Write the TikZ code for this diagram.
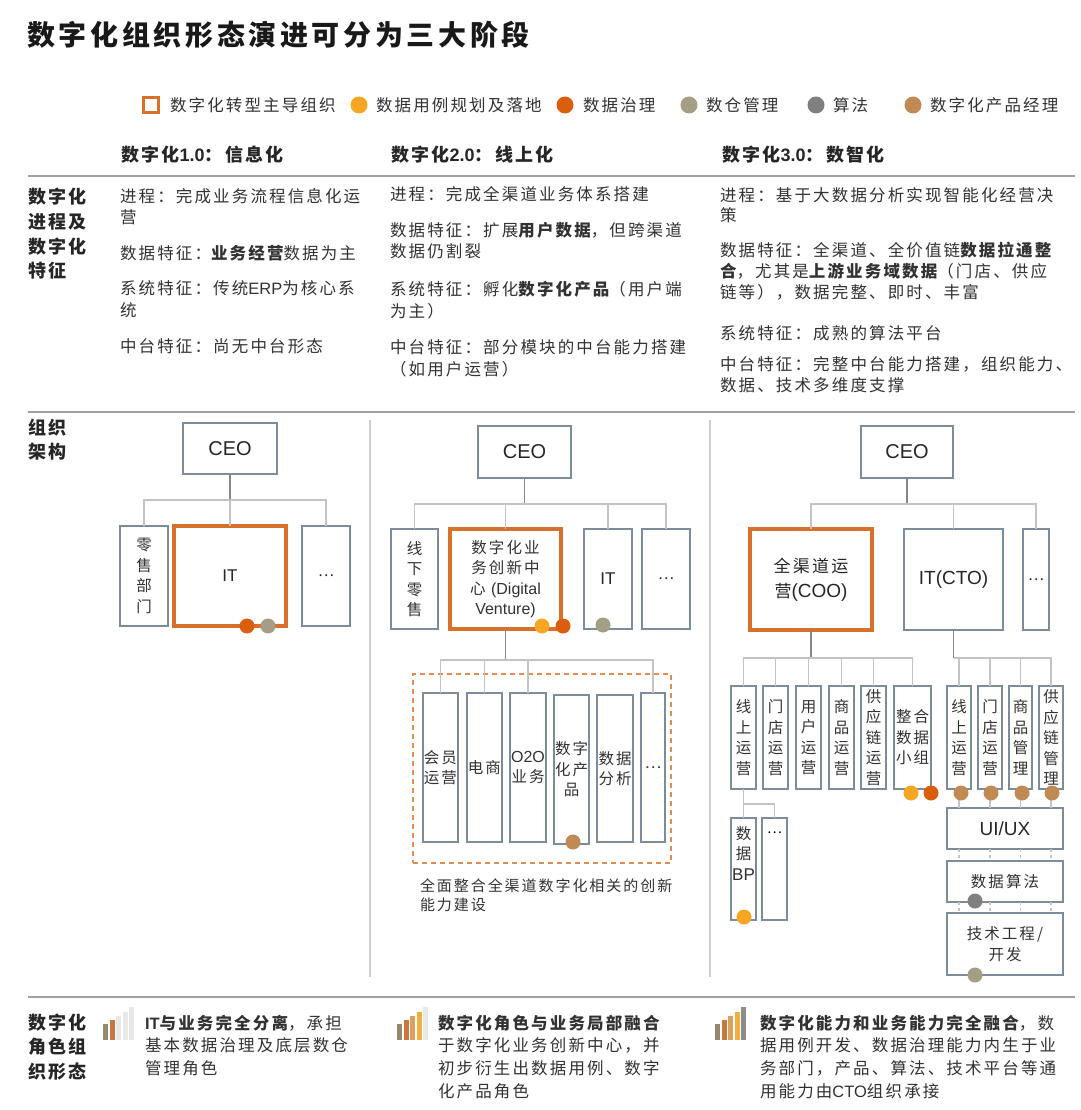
\documentclass[tikz,border=0pt]{standalone}
\usepackage{fontspec}
\setmainfont{Noto Sans CJK SC}
\newfontfamily\bodyf{Noto Sans CJK SC}[LetterSpace=13]
\newfontfamily\lat{Liberation Sans}
\usetikzlibrary{calc}
\definecolor{corg}{RGB}{214,112,42}
\definecolor{cuse}{RGB}{245,166,35}
\definecolor{cgov}{RGB}{217,95,14}
\definecolor{cdw}{RGB}{163,158,132}
\definecolor{calg}{RGB}{128,128,128}
\definecolor{cpm}{RGB}{192,138,85}
\definecolor{boxc}{RGB}{125,140,155}
\definecolor{lnc}{RGB}{195,195,195}
\definecolor{trc}{RGB}{135,135,135}
\definecolor{rulec}{RGB}{160,160,160}
\definecolor{sepc}{RGB}{205,205,205}
\definecolor{txt}{RGB}{50,50,50}
\definecolor{barA}{RGB}{150,135,112}
\definecolor{barB}{RGB}{200,120,60}
\definecolor{barC}{RGB}{217,160,96}
\definecolor{barD}{RGB}{240,176,64}
\definecolor{barE}{RGB}{140,140,140}
\definecolor{barL}{RGB}{232,232,232}
\tikzset{
  tx/.style={inner sep=0pt, outer sep=0pt, anchor=west, text=txt, font=\bodyf\fontsize{16.5}{21}\selectfont},
  hd/.style={inner sep=0pt, outer sep=0pt, anchor=west, text=black!85, font=\bodyf\bfseries\fontsize{18}{22}\selectfont},
  box/.style={draw=boxc, line width=1.3pt, fill=white, inner sep=0pt, outer sep=0pt, align=center, text=black!85},
  obox/.style={draw=corg, line width=3.5pt},
  vt/.style={font=\bodyf\fontsize{15.5}{20.5}\selectfont, text=txt},
  conn/.style={draw=lnc, line width=1.3pt},
  trunk/.style={draw=trc, line width=1.5pt},
  dotn/.style={circle, inner sep=0pt, outer sep=0pt, minimum size=15pt, draw=none},
  rulel/.style={draw=rulec, line width=2pt},
  sepl/.style={draw=sepc, line width=2pt},
}
\newcounter{tn}
\newcommand\tl[4][tx]{\stepcounter{tn}\node[#1] (t\arabic{tn}) at (#2,#3) {#4};}
\newcommand\bx[7][]{\node[box,minimum width={(#5-#3)*1pt},minimum height={(#6-#4)*1pt},#1] (#2) at ({(#3+#5)/2},{(#4+#6)/2}) {#7};}
\begin{document}
\begin{tikzpicture}[x=1pt,y=-1pt]
\useasboundingbox (0,0) rectangle (1080,1110);
\fill[white] (0,0) rectangle (1080,1110);

% title
\node[inner sep=0pt, anchor=west, text=black!90, font=\bodyf\bfseries\fontsize{28}{32}\selectfont] (title) at (27,35) {数字化组织形态演进可分为三大阶段};

% legend
\node[draw=corg, line width=2.8pt, minimum size=15pt, inner sep=0pt] (lg0) at (151,105) {};
\tl{170}{105}{数字化转型主导组织}
\node[dotn, minimum size=17pt, fill=cuse] (lg1) at (359,105) {};
\tl{376}{105}{数据用例规划及落地}
\node[dotn, minimum size=17pt, fill=cgov] (lg2) at (565,105) {};
\tl{583}{105}{数据治理}
\node[dotn, minimum size=17pt, fill=cdw] (lg3) at (689,105) {};
\tl{706}{105}{数仓管理}
\node[dotn, minimum size=17pt, fill=calg] (lg4) at (816,105) {};
\tl{833}{105}{算法}
\node[dotn, minimum size=17pt, fill=cpm] (lg5) at (913,105) {};
\tl{930}{105}{数字化产品经理}

% headers
\tl[hd]{121}{155}{数字化{\lat\bfseries 1.0}：信息化}
\tl[hd]{391}{155}{数字化{\lat\bfseries 2.0}：线上化}
\tl[hd]{722}{155}{数字化{\lat\bfseries 3.0}：数智化}

% rules
\draw[rulel] (28,176) -- (1075,176);
\draw[rulel] (28,412) -- (1075,412);
\draw[rulel] (28,997) -- (1075,997);
\draw[sepl] (370,420) -- (370,977);
\draw[sepl] (710,420) -- (710,977);

% row labels
\tl[hd]{28}{197}{数字化}
\tl[hd]{28}{222}{进程及}
\tl[hd]{28}{247}{数字化}
\tl[hd]{28}{271}{特征}
\tl[hd]{28}{428}{组织}
\tl[hd]{28}{452}{架构}
\tl[hd]{28}{1023}{数字化}
\tl[hd]{28}{1047}{角色组}
\tl[hd]{28}{1072}{织形态}

% column 1 text
\tl{120}{196}{进程：完成业务流程信息化运}
\tl{120}{217}{营}
\tl{120}{253}{数据特征：{\bfseries 业务经营}数据为主}
\tl{120}{288}{系统特征：传统{\lat ERP}为核心系}
\tl{120}{310}{统}
\tl{120}{346}{中台特征：尚无中台形态}

% column 2 text
\tl{390}{194}{进程：完成全渠道业务体系搭建}
\tl{390}{230}{数据特征：扩展{\bfseries 用户数据}，但跨渠道}
\tl{390}{251}{数据仍割裂}
\tl{390}{289}{系统特征：孵化{\bfseries 数字化产品}（用户端}
\tl{390}{311}{为主）}
\tl{390}{347}{中台特征：部分模块的中台能力搭建}
\tl{390}{369}{（如用户运营）}

% column 3 text
\tl{720}{195}{进程：基于大数据分析实现智能化经营决}
\tl{720}{215}{策}
\tl{720}{250}{数据特征：全渠道、全价值链{\bfseries 数据拉通整}}
\tl{720}{271}{{\bfseries 合}，尤其是{\bfseries 上游业务域数据}（门店、供应}
\tl{720}{292}{链等），数据完整、即时、丰富}
\tl{720}{333}{系统特征：成熟的算法平台}
\tl{720}{364}{中台特征：完整中台能力搭建，组织能力、}
\tl{720}{385}{数据、技术多维度支撑}

% ===== org chart 1 =====
\bx{ceo1}{183}{423}{277}{474}{\lat\fontsize{20}{24}\selectfont CEO}
\bx[vt]{ls1}{120}{526}{168}{626}{零\\售\\部\\门}
\bx[obox]{it1}{174}{526}{286}{626}{\lat\fontsize{17}{20}\selectfont IT}
\bx{dt1}{302}{526}{350}{626}{\fontsize{15}{20}\selectfont …}
\coordinate (b1) at (230,500);
\draw[trunk] (ceo1.south) -- (ceo1.south |- b1);
\draw[conn] (ls1.north) |- (dt1.north |- b1) -- (dt1.north);
\draw[conn] (it1.north) -- (it1.north |- b1);
\node[dotn, fill=cgov] (c1a) at (247,626) {};
\node[dotn, fill=cdw] (c1b) at (268,626) {};

% ===== org chart 2 =====
\bx{ceo2}{478}{426}{571}{478}{\lat\fontsize{20}{24}\selectfont CEO}
\bx[vt]{ls2}{391}{529}{438}{629}{线\\下\\零\\售}
\bx[obox,vt]{dv2}{450}{529}{561}{629}{数字化业\\务创新中\\心 {\lat\fontsize{16}{20}\selectfont (Digital}\\{\lat\fontsize{16}{20}\selectfont Venture)}}
\bx{it2}{584}{529}{632}{629}{\lat\fontsize{17}{20}\selectfont IT}
\bx{dt2}{642}{529}{690}{629}{\fontsize{15}{20}\selectfont …}
\coordinate (b2) at (525,504);
\draw[trunk] (ceo2.south) -- (ceo2.south |- b2);
\draw[conn] (ls2.north) |- (dt2.north |- b2) -- (dt2.north);
\draw[conn] (dv2.north) -- (dv2.north |- b2);
\draw[conn] (it2.north) -- (it2.north |- b2);
\node[dotn, fill=cuse] (c2a) at (542,626) {};
\node[dotn, fill=cgov] (c2b) at (563,626) {};
\node[dotn, fill=cdw] (c2c) at (603,625) {};

\bx[draw=corg!80, dashed, fill=none, dash pattern=on 5pt off 4pt, line width=1.3pt]{dash2}{413}{674}{671}{863}{}
\bx[vt]{s21}{423}{693}{458}{842}{会员\\运营}
\bx[vt]{s22}{467}{693}{502}{842}{电商}
\bx[vt]{s23}{510}{693}{546}{842}{{\lat\fontsize{16}{20}\selectfont O2O}\\业务}
\bx[vt]{s24}{554}{695}{589}{844}{数字\\化产\\品}
\bx[vt]{s25}{597}{695}{633}{842}{数据\\分析}
\bx[vt]{s26}{641}{693}{665}{842}{…}
\coordinate (b22) at (505,660);
\draw[trunk] (dv2.south) -- (dv2.south |- b22);
\draw[conn] (s21.north) |- (s26.north |- b22) -- (s26.north);
\draw[conn] (s22.north) -- (s22.north |- b22);
\draw[conn] (s23.north) -- (s23.north |- b22);
\node[dotn, fill=cpm] (c2d) at (573,842) {};
\tl[tx,font=\bodyf\fontsize{15}{19}\selectfont]{420}{886}{全面整合全渠道数字化相关的创新}
\tl[tx,font=\bodyf\fontsize{15}{19}\selectfont]{420}{905}{能力建设}

% ===== org chart 3 =====
\bx{ceo3}{861}{426}{953}{478}{\lat\fontsize{20}{24}\selectfont CEO}
\bx[obox,font=\bodyf\fontsize{17}{25}\selectfont]{coo3}{750}{529}{872}{630}{全渠道运\\营{\lat\fontsize{19}{24}\selectfont (COO)}}
\bx{cto3}{904}{529}{1003}{630}{\lat\fontsize{19}{24}\selectfont IT(CTO)}
\bx{dt3}{1023}{529}{1049}{630}{\fontsize{15}{20}\selectfont …}
\coordinate (b3) at (907,504);
\draw[trunk] (ceo3.south) -- (ceo3.south |- b3);
\draw[conn] (coo3.north) |- (dt3.north |- b3) -- (dt3.north);
\draw[conn] (cto3.north) -- (cto3.north |- b3);

\bx[vt]{s31}{731}{686}{756}{789}{线\\上\\运\\营}
\bx[vt]{s32}{763}{686}{788}{789}{门\\店\\运\\营}
\bx[vt]{s33}{796}{686}{821}{789}{用\\户\\运\\营}
\bx[vt]{s34}{829}{686}{854}{789}{商\\品\\运\\营}
\bx[vt]{s35}{861}{686}{886}{789}{供\\应\\链\\运\\营}
\bx[vt]{s36}{894}{686}{931}{789}{整合\\数据\\小组}
\coordinate (b31) at (811,658);
\draw[trunk] (coo3.south) -- (coo3.south |- b31);
\draw[conn] (s31.north) |- (s36.north |- b31) -- (s36.north);
\foreach \n in {s32,s33,s34,s35} \draw[conn] (\n.north) -- (\n.north |- b31);

\bx[vt]{s41}{947}{686}{971}{789}{线\\上\\运\\营}
\bx[vt]{s42}{978}{686}{1002}{789}{门\\店\\运\\营}
\bx[vt]{s43}{1009}{686}{1032}{789}{商\\品\\管\\理}
\bx[vt]{s44}{1039}{686}{1063}{789}{供\\应\\链\\管\\理}
\coordinate (b41) at (954,658);
\draw[trunk] (cto3.south) -- (cto3.south |- b41);
\draw[conn] (b41) -- (s44.north |- b41) -- (s44.north);
\foreach \n in {s41,s42,s43} \draw[conn] (\n.north) -- (\n.north |- b41);

\bx[vt]{bp3}{731}{818}{756}{920}{}
\node[vt, anchor=north, inner sep=0pt, align=center] (bpt) at (743.5,826) {数\\据\\{\lat\fontsize{17}{20}\selectfont BP}};
\bx{bq3}{762}{818}{787}{920}{}
\node[anchor=north, inner sep=0pt, font=\fontsize{14}{18}\selectfont] (bqt) at (774.5,832) {…};
\coordinate (b51) at (743.5,804);
\draw[conn] (s31.south) -- (b51) -| (bq3.north);
\draw[conn] (b51) -- (bp3.north);

\bx{ui3}{947}{808}{1063}{849}{\lat\fontsize{19}{24}\selectfont UI/UX}
\bx[vt]{al3}{947}{861}{1063}{902}{数据算法}
\bx[vt]{te3}{947}{913}{1063}{975}{技术工程/\\开发}
\foreach \n in {s41,s42,s43,s44} {
  \draw[conn] (\n.south) -- (\n.south |- ui3.north);
  \draw[conn, dashed, dash pattern=on 3pt off 3pt] (\n.south |- ui3.south) -- (\n.south |- al3.north);
  \draw[conn, dashed, dash pattern=on 3pt off 3pt] (\n.south |- al3.south) -- (\n.south |- te3.north);
}
\node[dotn, fill=cuse] (c3a) at (911,793) {};
\node[dotn, fill=cgov] (c3b) at (931,793) {};
\node[dotn, fill=cpm] (c3c) at (961,793) {};
\node[dotn, fill=cpm] (c3d) at (991,793) {};
\node[dotn, fill=cpm] (c3e) at (1022,793) {};
\node[dotn, fill=cpm] (c3f) at (1052,793) {};
\node[dotn, fill=cuse] (c3g) at (744,917) {};
\node[dotn, fill=calg] (c3h) at (975,901) {};
\node[dotn, fill=cdw] (c3i) at (975,975) {};

% ===== bottom bar icons =====
\fill[barA] (103,1040) rectangle (108,1024);
\fill[barB] (109.5,1040) rectangle (114.5,1020);
\fill[barL] (116,1040) rectangle (121,1016);
\fill[barL] (122.5,1040) rectangle (127.5,1012);
\fill[barL] (129,1040) rectangle (134,1007);

\fill[barA] (397,1040) rectangle (402,1024);
\fill[barB] (403.5,1040) rectangle (408.5,1020);
\fill[barC] (410,1040) rectangle (415,1016);
\fill[barD] (416.5,1040) rectangle (421.5,1012);
\fill[barL] (423,1040) rectangle (428,1007);

\fill[barA] (715,1040) rectangle (720,1024);
\fill[barB] (721.5,1040) rectangle (726.5,1020);
\fill[barC] (728,1040) rectangle (733,1016);
\fill[barD] (734.5,1040) rectangle (739.5,1012);
\fill[barE] (741,1040) rectangle (746,1007);

% bottom texts
\tl{145}{1023}{{\bfseries {\lat IT}与业务完全分离}，承担}
\tl{145}{1045}{基本数据治理及底层数仓}
\tl{145}{1068}{管理角色}
\tl{438}{1023}{{\bfseries 数字化角色与业务局部融合}}
\tl{438}{1045}{于数字化业务创新中心，并}
\tl{438}{1068}{初步衍生出数据用例、数字}
\tl{438}{1091}{化产品角色}
\tl{760}{1023}{{\bfseries 数字化能力和业务能力完全融合}，数}
\tl{760}{1045}{据用例开发、数据治理能力内生于业}
\tl{760}{1068}{务部门，产品、算法、技术平台等通}
\tl{760}{1091}{用能力由{\lat CTO}组织承接}
\end{tikzpicture}
\end{document}
